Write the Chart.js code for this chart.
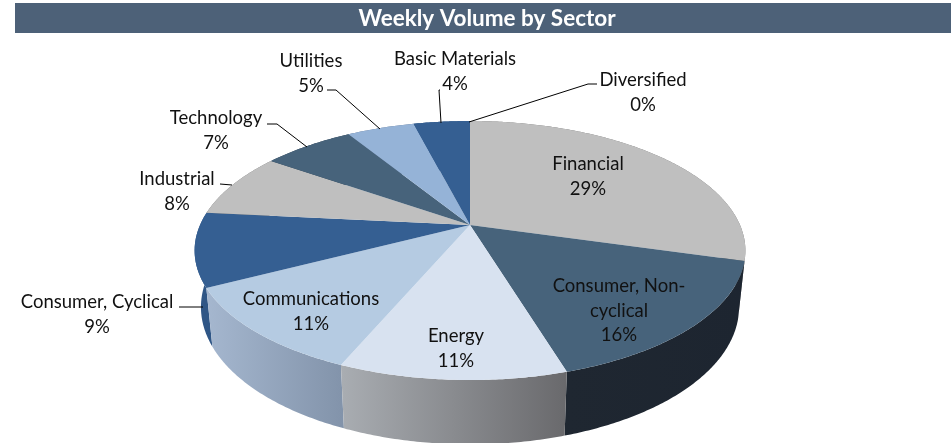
<!DOCTYPE html>
<html lang="en">
<head>
  <meta charset="UTF-8">
  <title>Weekly Volume by Sector</title>
  <script src="https://cdn.jsdelivr.net/npm/chart.js"></script>
  <style>
    html, body { margin: 0; padding: 0; background: #fff; overflow: hidden; }
    canvas { display: block; }
  </style>
</head>
<body>
  <canvas id="sectorChart" width="951" height="443"></canvas>

  <script>
    const categories = ['Financial', 'Consumer, Non-cyclical', 'Energy', 'Communications', 'Consumer, Cyclical',
      'Industrial', 'Technology', 'Utilities', 'Basic Materials', 'Diversified'];
    const volumeShare = [29.4, 15.9, 11.1, 11.0, 9.2, 8.1, 6.5, 4.8, 4.0, 0];

    const topColors = ['#bfbfbf', '#47637b', '#d8e2f0', '#b5cbe2', '#355f92', '#bfbfbf', '#47637b', '#95b3d7', '#355f92', '#95b3d7'];
    const wallLeft = ['#6f6f6f', '#1f2731', '#a9adb2', '#a5b7cf', '#2f5686', '#6f6f6f', '#2c3e4e', '#5f7290', '#2f5686', '#5f7290'];
    const wallRight = ['#6f6f6f', '#1d2530', '#69696c', '#8293aa', '#2f5686', '#6f6f6f', '#2c3e4e', '#5f7290', '#2f5686', '#5f7290'];

    // label text lines and where they sit; leaders run from the text to the rim
    const labelLines = [['Financial'], ['Consumer, Non-', 'cyclical'], ['Energy'], ['Communications'], ['Consumer, Cyclical'],
      ['Industrial'], ['Technology'], ['Utilities'], ['Basic Materials'], ['Diversified']];
    const labelSpots = [[588, 164], [619, 286], [456, 336], [311, 299], [97, 302], [177, 179], [216, 118], [311, 61], [455, 59], [643, 80]];
    const leaders = [null, null, null, null,
      [[179, 307], [203, 307]],
      [[220, 184], [232, 185]],
      [[267, 124], [277, 124], [307, 147]],
      [[327, 90], [336, 90], [380, 129]],
      [[440, 90], [439, 90], [441, 123]],
      [[597, 84], [588, 84], [469, 122]]];

    // perspective of the tilted disc: k is the foreshortening, top and bottom are the two rims
    const view = { cx: 470, k: 0.197, a: 270 };
    const topRim = { y: 225, b: 124.5, s: 1 };
    const bottomRim = { y: 280, b: 132, s: 0.977 };
    const LABEL_FONT = '18.5px Lato, sans-serif';

    function project(theta, rim) {
      const u = Math.sin(theta), v = -Math.cos(theta);
      const w = 1 - view.k * v;
      return [view.cx + rim.s * view.a * u / w, rim.y + rim.b * v / w];
    }

    function rimPoints(start, end, rim) {
      const pts = [];
      const steps = Math.max(2, Math.ceil((end - start) / 0.01));
      for (let i = 0; i <= steps; i++) pts.push(project(start + (end - start) * i / steps, rim));
      return pts;
    }

    const pie3d = {
      id: 'pie3d',
      beforeDraw(chart) {
        const ctx = chart.ctx;
        ctx.save();
        ctx.fillStyle = '#4d6178';
        ctx.fillRect(15, 3, 936, 30);
        ctx.restore();
      },
      beforeDatasetsDraw(chart) {
        const ctx = chart.ctx;
        const arcs = chart.getDatasetMeta(0).data;
        const turns = arcs.map((arc, i) => ({
          i,
          start: arc.startAngle + Math.PI / 2,
          end: arc.endAngle + Math.PI / 2
        }));
        ctx.save();

        // side walls, back ones first
        const order = turns.slice().sort((p, q) => {
          return -Math.cos((p.start + p.end) / 2) - -Math.cos((q.start + q.end) / 2);
        });
        order.forEach(t => {
          if (t.end - t.start < 1e-4) return;
          const top = rimPoints(t.start, t.end, topRim);
          const bottom = rimPoints(t.start, t.end, bottomRim);
          const xs = top.concat(bottom).map(p => p[0]);
          const grad = ctx.createLinearGradient(Math.min(...xs), 0, Math.max(...xs), 0);
          grad.addColorStop(0, wallLeft[t.i]);
          grad.addColorStop(1, wallRight[t.i]);
          ctx.fillStyle = grad;
          ctx.beginPath();
          for (let j = 0; j < top.length - 1; j++) {
            ctx.moveTo(top[j][0], top[j][1]);
            ctx.lineTo(top[j + 1][0], top[j + 1][1]);
            ctx.lineTo(bottom[j + 1][0], bottom[j + 1][1]);
            ctx.lineTo(bottom[j][0], bottom[j][1]);
            ctx.closePath();
          }
          ctx.fill('nonzero');
        });

        // top face
        turns.forEach(t => {
          if (t.end - t.start < 1e-4) return;
          ctx.fillStyle = arcs[t.i].options.backgroundColor;
          ctx.beginPath();
          ctx.moveTo(view.cx, topRim.y);
          rimPoints(t.start, t.end, topRim).forEach(p => ctx.lineTo(p[0], p[1]));
          ctx.closePath();
          ctx.fill();
        });

        // leaders
        ctx.strokeStyle = '#000';
        ctx.lineWidth = 1;
        leaders.forEach(line => {
          if (!line) return;
          ctx.beginPath();
          line.forEach((p, j) => (j ? ctx.lineTo(p[0], p[1]) : ctx.moveTo(p[0], p[1])));
          ctx.stroke();
        });

        // labels
        ctx.font = LABEL_FONT;
        ctx.fillStyle = '#111';
        ctx.textAlign = 'center';
        ctx.textBaseline = 'middle';
        categories.forEach((name, i) => {
          const lines = labelLines[i].concat(Math.round(volumeShare[i]) + '%');
          lines.forEach((text, j) => {
            ctx.fillText(text, labelSpots[i][0], labelSpots[i][1] + j * 24.7);
          });
        });

        ctx.restore();
        return false;
      }
    };

    new Chart(document.getElementById('sectorChart'), {
      type: 'pie',
      data: {
        labels: categories,
        datasets: [{
          data: volumeShare,
          backgroundColor: topColors,
          borderWidth: 0
        }]
      },
      options: {
        responsive: false,
        animation: false,
        layout: { padding: { left: 23 } },
        plugins: {
          legend: { display: false },
          tooltip: { enabled: false },
          title: {
            display: true,
            text: 'Weekly Volume by Sector',
            color: '#fff',
            font: { family: 'Lato, sans-serif', size: 22.5, weight: 'bold' },
            padding: { top: 5, bottom: 6 }
          }
        }
      },
      plugins: [pie3d]
    });
  </script>
</body>
</html>
